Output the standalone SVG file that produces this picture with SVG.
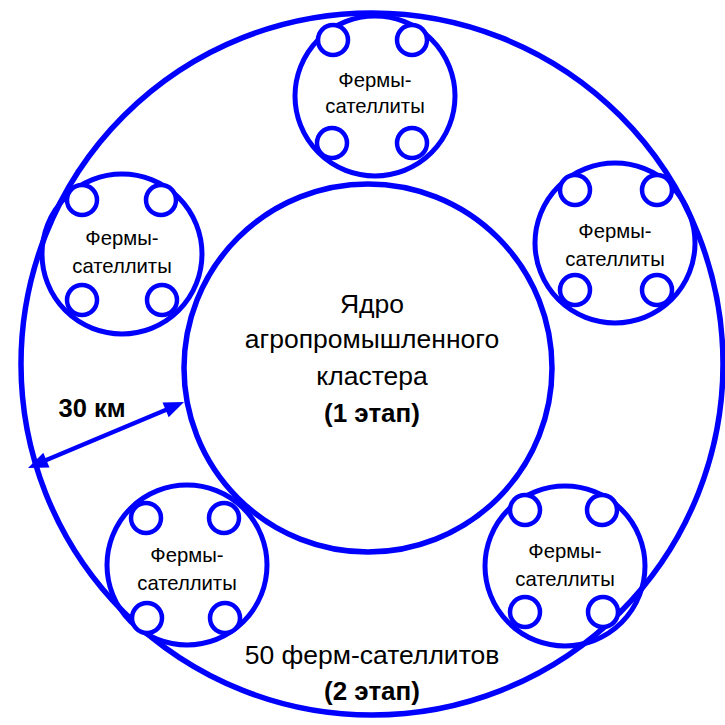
<svg xmlns="http://www.w3.org/2000/svg" width="725" height="725" viewBox="0 0 725 725">
<style>
.ring{fill:none;stroke:#0000FF;stroke-width:5.5}
.sat{fill:none;stroke:#0000FF;stroke-width:5}
.dot{fill:#FFFFFF;stroke:#0000FF;stroke-width:4.5}
.t{font-family:"Liberation Sans",Arial,sans-serif;fill:#000;text-anchor:middle}
.st{font-size:20.3px}
.ct{font-size:26.5px}
.b{font-weight:bold}
.arr{fill:#0000FF;stroke:none}
</style>
<g id="outer">
<circle class="ring" cx="372" cy="364" r="351"/>
<text class="t" x="372" y="664" style="font-size:26.5px">50 ферм-сателлитов</text>
<text class="t b" x="372" y="700" style="font-size:26px">(2 этап)</text>
</g>
<g id="core">
<circle class="ring" cx="368" cy="368" r="184"/>
<text class="t ct" x="372" y="313">Ядро</text>
<text class="t ct" x="372" y="348">агропромышленного</text>
<text class="t ct" x="372" y="385">кластера</text>
<text class="t b" x="372" y="422" style="font-size:26px">(1 этап)</text>
</g>
<g id="sat-top">
<circle class="sat" cx="375" cy="96" r="80"/>
<circle class="dot" cx="333" cy="40" r="15"/>
<circle class="dot" cx="412" cy="40" r="15"/>
<circle class="dot" cx="332" cy="143" r="15"/>
<circle class="dot" cx="412" cy="143" r="15"/>
<text class="t st" x="375" y="87">Фермы-</text>
<text class="t st" x="375" y="113">сателлиты</text>
</g>
<g id="sat-left">
<circle class="sat" cx="122" cy="254" r="80"/>
<circle class="dot" cx="82" cy="200" r="15"/>
<circle class="dot" cx="161" cy="200" r="15"/>
<circle class="dot" cx="82" cy="300" r="15"/>
<circle class="dot" cx="162" cy="300" r="15"/>
<text class="t st" x="122" y="245">Фермы-</text>
<text class="t st" x="122" y="273">сателлиты</text>
</g>
<g id="sat-right">
<circle class="sat" cx="615" cy="243" r="80"/>
<circle class="dot" cx="575" cy="190" r="15"/>
<circle class="dot" cx="657" cy="190" r="15"/>
<circle class="dot" cx="575" cy="290" r="15"/>
<circle class="dot" cx="657" cy="290" r="15"/>
<text class="t st" x="615" y="238">Фермы-</text>
<text class="t st" x="615" y="266">сателлиты</text>
</g>
<g id="sat-bottom-left">
<circle class="sat" cx="187" cy="565" r="80"/>
<circle class="dot" cx="146" cy="518" r="15"/>
<circle class="dot" cx="224" cy="518" r="15"/>
<circle class="dot" cx="147" cy="618" r="15"/>
<circle class="dot" cx="225" cy="618" r="15"/>
<text class="t st" x="187" y="562">Фермы-</text>
<text class="t st" x="187" y="590">сателлиты</text>
</g>
<g id="sat-bottom-right">
<circle class="sat" cx="565" cy="566" r="80"/>
<circle class="dot" cx="525" cy="510" r="15"/>
<circle class="dot" cx="602" cy="510" r="15"/>
<circle class="dot" cx="525" cy="612" r="15"/>
<circle class="dot" cx="603" cy="612" r="15"/>
<text class="t st" x="565" y="558">Фермы-</text>
<text class="t st" x="565" y="586">сателлиты</text>
</g>
<g id="connectors">
<line x1="44" y1="461" x2="168" y2="409" stroke="#0000FF" stroke-width="4.5"/>
<polygon class="arr" points="184,402 168.7,417.2 162.5,402.4"/>
<polygon class="arr" points="28,468 49.5,467.6 43.3,452.8"/>
<text class="t b" x="92" y="417" style="font-size:25.5px">30 км</text>
</g>
</svg>
